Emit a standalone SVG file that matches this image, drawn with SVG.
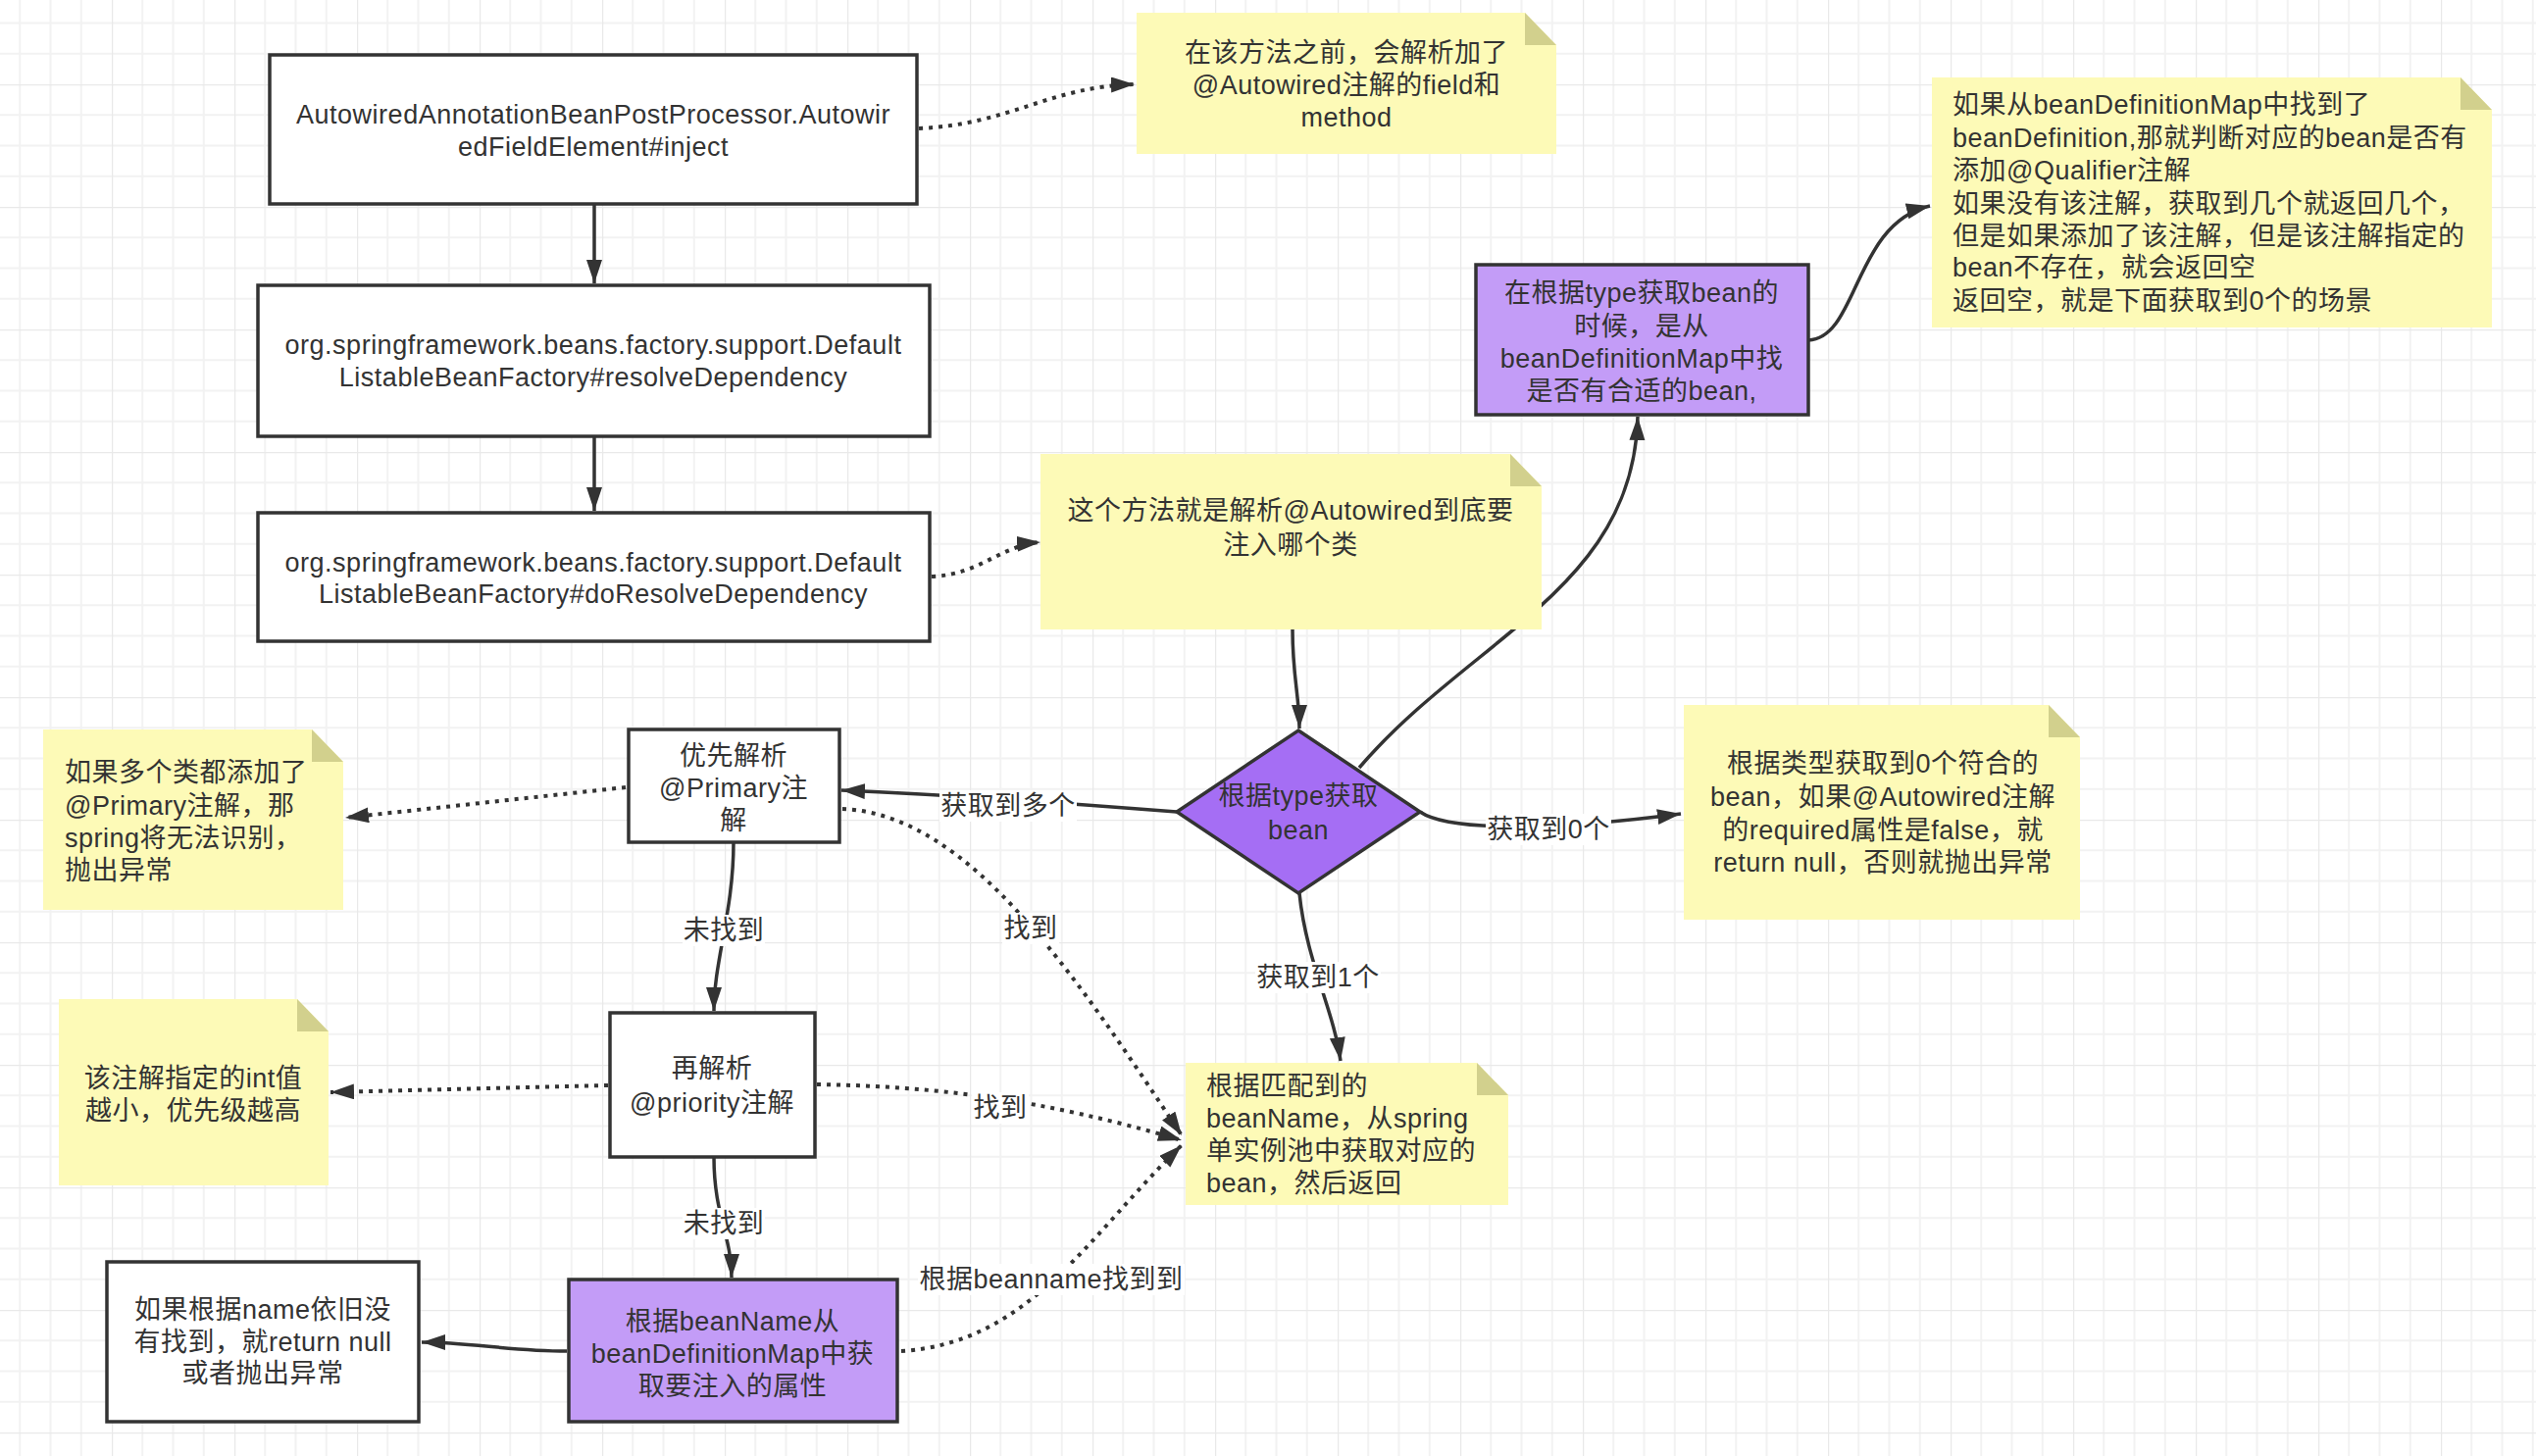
<svg xmlns="http://www.w3.org/2000/svg" width="2586" height="1485" viewBox="0 0 2586 1485">
<defs>
<pattern id="grid" patternUnits="userSpaceOnUse" x="114" y="86" width="125" height="125">
<path d="M31.25,0V125M62.5,0V125M93.75,0V125M0,31.25H125M0,62.5H125M0,93.75H125" stroke="#f2f2f2" stroke-width="2" fill="none"/>
<path d="M0,0V125M0,0H125" stroke="#e9e9e9" stroke-width="2.5" fill="none"/>
</pattern>
<marker id="ah" markerUnits="userSpaceOnUse" markerWidth="26" markerHeight="18" refX="24" refY="8" orient="auto">
<path d="M0,0 L24,8 L0,16 z" fill="#333"/>
</marker>
</defs>
<style>
text{font-family:"Liberation Sans","Noto Sans CJK SC",sans-serif;font-size:27px;letter-spacing:0.5px;fill:#333}
.c{text-anchor:middle}
.box{fill:#fff;stroke:#333;stroke-width:3.5}
.pbox{fill:#c39cf7;stroke:#333;stroke-width:3.5}
.dia{fill:#a56ef4;stroke:#333;stroke-width:3.5}
.note{fill:#fdfab7}
.fold{fill:#d2d08d}
.ln{fill:none;stroke:#333;stroke-width:3.5;marker-end:url(#ah)}
.dot{fill:none;stroke:#333;stroke-width:4;stroke-dasharray:4 6;marker-end:url(#ah)}
.lb{fill:#fff}
</style>
<rect width="2586" height="1485" fill="#fff"/>
<rect width="2586" height="1485" fill="url(#grid)"/>

<g id="connectors">
<path class="ln" d="M606,208 L606,289"/>
<path class="ln" d="M606,445 L606,521"/>
<path class="dot" d="M937,131 C1030,127 1070,88 1157,86"/>
<path class="dot" d="M950,588 C1000,586 1020,556 1061,553"/>
<path class="ln" d="M1318,642 C1318,690 1325,710 1325,743"/>
<path class="ln" d="M1386,783 C1500,650 1666,600 1670,425"/>
<path class="ln" d="M1844,347 C1895,345 1890,228 1968,210"/>
<path class="ln" d="M1200,828 C1100,820 950,810 858,806"/>
<path class="dot" d="M638,803 L352,834"/>
<path class="ln" d="M748,859 C748,930 728,980 728,1031"/>
<path class="dot" d="M620,1107 L337,1114"/>
<path class="ln" d="M728,1180 C728,1240 746,1260 746,1303"/>
<path class="ln" d="M578,1378 C520,1378 480,1369 430,1369"/>
<path class="dot" d="M859,825 C990,830 1100,1000 1205,1158"/>
<path class="dot" d="M833,1106 C950,1108 1060,1120 1205,1163"/>
<path class="dot" d="M919,1378 C1050,1370 1110,1260 1205,1168"/>
<path class="ln" d="M1448,828 C1480,850 1600,845 1714,830"/>
<path class="ln" d="M1325,911 C1332,980 1360,1030 1367,1082"/>
<rect class="lb" x="958" y="806" width="140" height="32"/>
<text class="c" x="1028" y="831">获取到多个</text>
<rect class="lb" x="1022" y="931" width="58" height="32"/>
<text class="c" x="1051" y="956">找到</text>
<rect class="lb" x="696" y="933" width="84" height="32"/>
<text class="c" x="738" y="958">未找到</text>
<rect class="lb" x="991" y="1114" width="58" height="32"/>
<text class="c" x="1020" y="1139">找到</text>
<rect class="lb" x="696" y="1232" width="84" height="32"/>
<text class="c" x="738" y="1257">未找到</text>
<rect class="lb" x="936" y="1289" width="272" height="32"/>
<text class="c" x="1072" y="1314">根据beanname找到到</text>
<rect class="lb" x="1515" y="830" width="128" height="32"/>
<text class="c" x="1579" y="855">获取到0个</text>
<rect class="lb" x="1280" y="981" width="128" height="32"/>
<text class="c" x="1344" y="1006">获取到1个</text>
</g>

<g id="box1">
<rect class="box" x="275" y="56" width="660" height="152"/>
<text class="c" x="605" y="126">AutowiredAnnotationBeanPostProcessor.Autowir</text>
<text class="c" x="605" y="159">edFieldElement#inject</text>
</g>
<g id="box2">
<rect class="box" x="263" y="291" width="685" height="154"/>
<text class="c" x="605" y="361">org.springframework.beans.factory.support.Default</text>
<text class="c" x="605" y="394">ListableBeanFactory#resolveDependency</text>
</g>
<g id="box3">
<rect class="box" x="263" y="523" width="685" height="131"/>
<text class="c" x="605" y="583">org.springframework.beans.factory.support.Default</text>
<text class="c" x="605" y="615">ListableBeanFactory#doResolveDependency</text>
</g>

<g id="note1">
<path class="note" d="M1159,13 H1555 L1587,46 V157 H1159 Z"/>
<path class="fold" d="M1555,13 L1587,46 H1555 Z"/>
<text class="c" x="1373" y="63">在该方法之前，会解析加了</text>
<text class="c" x="1373" y="96">@Autowired注解的field和</text>
<text class="c" x="1373" y="129">method</text>
</g>

<g id="note2">
<path class="note" d="M1970,79 H2509 L2541,112 V334 H1970 Z"/>
<path class="fold" d="M2509,79 L2541,112 H2509 Z"/>
<text x="1991" y="116">如果从beanDefinitionMap中找到了</text>
<text x="1991" y="150">beanDefinition,那就判断对应的bean是否有</text>
<text x="1991" y="183">添加@Qualifier注解</text>
<text x="1991" y="217">如果没有该注解，获取到几个就返回几个，</text>
<text x="1991" y="250">但是如果添加了该注解，但是该注解指定的</text>
<text x="1991" y="282">bean不存在，就会返回空</text>
<text x="1991" y="316">返回空，就是下面获取到0个的场景</text>
</g>

<g id="typebox">
<rect class="pbox" x="1505" y="270" width="339" height="153"/>
<text class="c" x="1674" y="308">在根据type获取bean的</text>
<text class="c" x="1674" y="342">时候，是从</text>
<text class="c" x="1674" y="375">beanDefinitionMap中找</text>
<text class="c" x="1674" y="408">是否有合适的bean,</text>
</g>

<g id="note3">
<path class="note" d="M1061,463 H1540 L1572,496 V642 H1061 Z"/>
<path class="fold" d="M1540,463 L1572,496 H1540 Z"/>
<text class="c" x="1316" y="530">这个方法就是解析@Autowired到底要</text>
<text class="c" x="1316" y="565">注入哪个类</text>
</g>

<g id="diamond">
<path class="dia" d="M1324,745 L1448,828 L1324,911 L1200,828 Z"/>
<text class="c" x="1324" y="821">根据type获取</text>
<text class="c" x="1324" y="856">bean</text>
</g>

<g id="note4">
<path class="note" d="M1717,719 H2089 L2121,752 V938 H1717 Z"/>
<path class="fold" d="M2089,719 L2121,752 H2089 Z"/>
<text class="c" x="1920" y="788">根据类型获取到0个符合的</text>
<text class="c" x="1920" y="822">bean，如果@Autowired注解</text>
<text class="c" x="1920" y="856">的required属性是false，就</text>
<text class="c" x="1920" y="889">return null，否则就抛出异常</text>
</g>

<g id="note5">
<path class="note" d="M1209,1084 H1506 L1538,1117 V1229 H1209 Z"/>
<path class="fold" d="M1506,1084 L1538,1117 H1506 Z"/>
<text x="1230" y="1117">根据匹配到的</text>
<text x="1230" y="1150">beanName，从spring</text>
<text x="1230" y="1183">单实例池中获取对应的</text>
<text x="1230" y="1216">bean，然后返回</text>
</g>

<g id="primary">
<rect class="box" x="641" y="744" width="215" height="115"/>
<text class="c" x="748" y="780">优先解析</text>
<text class="c" x="748" y="813">@Primary注</text>
<text class="c" x="748" y="846">解</text>
</g>

<g id="note6">
<path class="note" d="M44,744 H318 L350,777 V928 H44 Z"/>
<path class="fold" d="M318,744 L350,777 H318 Z"/>
<text x="66" y="797">如果多个类都添加了</text>
<text x="66" y="831">@Primary注解，那</text>
<text x="66" y="864">spring将无法识别，</text>
<text x="66" y="897">抛出异常</text>
</g>

<g id="priority">
<rect class="box" x="622" y="1033" width="209" height="147"/>
<text class="c" x="726" y="1099">再解析</text>
<text class="c" x="726" y="1134">@priority注解</text>
</g>

<g id="note7">
<path class="note" d="M60,1019 H303 L335,1052 V1209 H60 Z"/>
<path class="fold" d="M303,1019 L335,1052 H303 Z"/>
<text class="c" x="197" y="1109">该注解指定的int值</text>
<text class="c" x="197" y="1142">越小，优先级越高</text>
</g>

<g id="namebox">
<rect class="pbox" x="580" y="1305" width="335" height="145"/>
<text class="c" x="747" y="1357">根据beanName从</text>
<text class="c" x="747" y="1390">beanDefinitionMap中获</text>
<text class="c" x="747" y="1423">取要注入的属性</text>
</g>

<g id="nullbox">
<rect class="box" x="109" y="1287" width="318" height="163"/>
<text class="c" x="268" y="1345">如果根据name依旧没</text>
<text class="c" x="268" y="1378">有找到，就return null</text>
<text class="c" x="268" y="1410">或者抛出异常</text>
</g>
</svg>
